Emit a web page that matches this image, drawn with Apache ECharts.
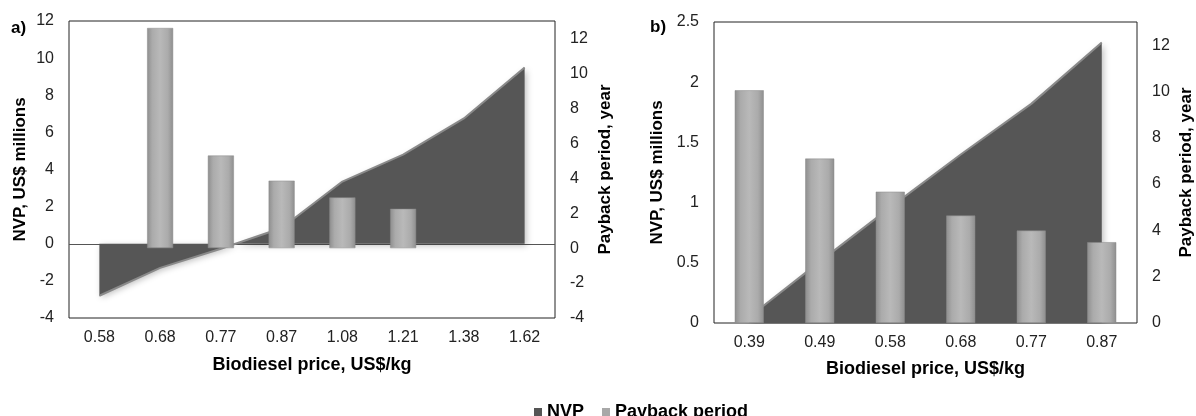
<!DOCTYPE html>
<html>
<head>
<meta charset="utf-8">
<script src="https://cdn.jsdelivr.net/npm/echarts@6/dist/echarts.min.js"></script>
<style>
html,body{margin:0;padding:0;background:#fff;}
#chart{width:1196px;height:416px;}
</style>
</head>
<body>
<div id="chart"></div>
<script>
// ---- Data ----
const catsA = ['0.58', '0.68', '0.77', '0.87', '1.08', '1.21', '1.38', '1.62'];
const nvpA = [-2.8, -1.3, -0.27, 0.85, 3.35, 4.8, 6.75, 9.5];
const paybackA = [null, 12.6, 5.3, 3.86, 2.9, 2.25, null, null];

const catsB = ['0.39', '0.49', '0.58', '0.68', '0.77', '0.87'];
const nvpB = [0.05, 0.51, 0.96, 1.40, 1.82, 2.33];
const paybackB = [10.05, 7.1, 5.67, 4.64, 3.99, 3.49];

const leftAxisA = { min: -4, max: 12, interval: 2 };
const rightAxisA = { min: -4, max: 13, interval: 2, lastLabel: 12 };
const leftAxisB = { min: 0, max: 2.5, interval: 0.5 };
const rightAxisB = { min: 0, max: 13, interval: 2, lastLabel: 12 };

const seriesNames = ['NVP', 'Payback period'];
const xTitle = 'Biodiesel price, US$/kg';
const leftTitle = 'NVP, US$ millions';
const rightTitle = 'Payback period, year';
const panelLabels = ['a)', 'b)'];

// ---- Styles ----
const FONT = 'Liberation Sans, Arial, sans-serif';
const areaFill = '#565656';
const barGrad = {
  type: 'linear', x: 0, y: 0, x2: 1, y2: 0,
  colorStops: [
    { offset: 0, color: '#8e8e8e' },
    { offset: 0.2, color: '#ababab' },
    { offset: 0.5, color: '#b9b9b9' },
    { offset: 0.8, color: '#ababab' },
    { offset: 1, color: '#8e8e8e' }
  ]
};

function xAxis(gridIndex, data, gap) {
  return {
    type: 'category', gridIndex, data,
    axisLine: { show: false }, axisTick: { show: false },
    axisLabel: { fontFamily: FONT, fontSize: 16, color: '#222', margin: 12 },
    name: xTitle, nameLocation: 'middle', nameGap: gap,
    nameTextStyle: { fontFamily: FONT, fontSize: 18, fontWeight: 'bold', color: '#000' },
    splitLine: { show: false }
  };
}
function yAxis(gridIndex, cfg, pos, name, nameGap) {
  return {
    type: 'value', gridIndex, position: pos,
    min: cfg.min, max: cfg.max, interval: cfg.interval,
    axisLine: { show: false }, axisTick: { show: false }, splitLine: { show: false },
    axisLabel: {
      fontFamily: FONT, fontSize: 16, color: '#222', margin: 15,
      formatter: v => (cfg.lastLabel !== undefined && v > cfg.lastLabel) ? '' : String(v)
    },
    name, nameLocation: 'middle', nameGap,
    nameTextStyle: { fontFamily: FONT, fontSize: 17, fontWeight: 'bold', color: '#000' }
  };
}
function nvpSeries(xi, yi, data, zeroLine) {
  const s = {
    name: seriesNames[0], type: 'line', xAxisIndex: xi, yAxisIndex: yi, data,
    symbol: 'none', smooth: false,
    itemStyle: { color: areaFill },
    lineStyle: { color: '#8a8a8a', width: 2 },
    areaStyle: { color: areaFill, opacity: 1, shadowBlur: 6, shadowColor: 'rgba(0,0,0,0.25)', shadowOffsetX: 2, shadowOffsetY: 2 },
    z: 2
  };
  if (zeroLine) {
    s.markLine = {
      silent: true, symbol: 'none', label: { show: false },
      lineStyle: { color: '#555', width: 1, type: 'solid' },
      data: [{ yAxis: 0 }], z: 1
    };
  }
  return s;
}
function barSeries(xi, yi, data, width) {
  return {
    name: seriesNames[1], type: 'bar', xAxisIndex: xi, yAxisIndex: yi, data,
    barWidth: width,
    itemStyle: { color: barGrad, borderColor: '#8a8a8a', borderWidth: 0.5 },
    z: 3
  };
}

const chart = echarts.init(document.getElementById('chart'), null, { renderer: 'canvas' });
chart.setOption({
  animation: false,
  backgroundColor: '#fff',
  grid: [
    { left: 69, top: 21, width: 486, height: 297, show: true, borderColor: '#222', borderWidth: 1, backgroundColor: 'transparent' },
    { left: 714, top: 22, width: 426, height: 301, show: true, borderColor: '#222', borderWidth: 1, backgroundColor: 'transparent' }
  ],
  xAxis: [xAxis(0, catsA, 38), xAxis(1, catsB, 37)],
  yAxis: [
    yAxis(0, leftAxisA, 'left', leftTitle, 40),
    yAxis(0, rightAxisA, 'right', rightTitle, 42),
    yAxis(1, leftAxisB, 'left', leftTitle, 48),
    yAxis(1, rightAxisB, 'right', rightTitle, 41)
  ],
  legend: {
    data: [
      { name: seriesNames[0], itemStyle: { color: '#555' } },
      { name: seriesNames[1], itemStyle: { color: '#a8a8a8' } }
    ],
    left: 529, top: 398, icon: 'rect', itemWidth: 8, itemHeight: 8, itemGap: 18, itemStyle: { borderWidth: 0 },
    textStyle: { fontFamily: FONT, fontSize: 18, fontWeight: 'bold', color: '#000', padding: [0, 0, 0, 0] }
  },
  graphic: [
    { type: 'text', left: 11, top: 20, style: { text: panelLabels[0], font: 'bold 17px ' + FONT, fill: '#000' } },
    { type: 'text', left: 650, top: 19, style: { text: panelLabels[1], font: 'bold 17px ' + FONT, fill: '#000' } }
  ],
  series: [
    nvpSeries(0, 0, nvpA, true),
    barSeries(0, 1, paybackA, 26),
    nvpSeries(1, 2, nvpB, false),
    barSeries(1, 3, paybackB, 29)
  ]
});
</script>
</body>
</html>
